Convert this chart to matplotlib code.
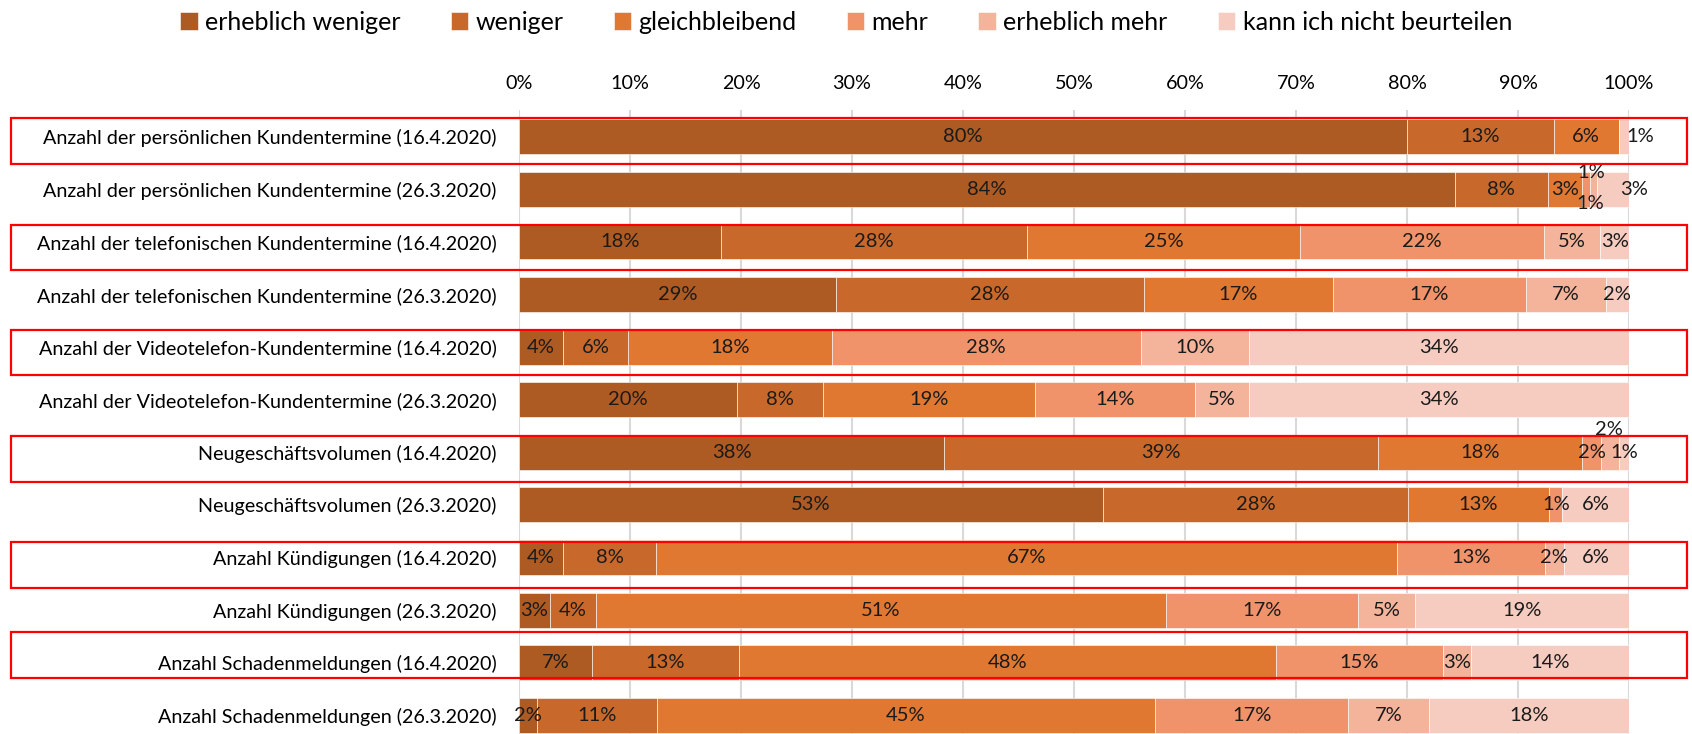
import numpy as np
import matplotlib.pyplot as plt
from matplotlib.patches import Rectangle
from matplotlib.transforms import blended_transform_factory

plt.rcParams['font.family'] = ['Lato', 'DejaVu Sans']

categories = ['Anzahl der persönlichen Kundentermine (16.4.2020)',
              'Anzahl der persönlichen Kundentermine (26.3.2020)',
              'Anzahl der telefonischen Kundentermine (16.4.2020)',
              'Anzahl der telefonischen Kundentermine (26.3.2020)',
              'Anzahl der Videotelefon-Kundentermine (16.4.2020)',
              'Anzahl der Videotelefon-Kundentermine (26.3.2020)',
              'Neugeschäftsvolumen (16.4.2020)',
              'Neugeschäftsvolumen (26.3.2020)',
              'Anzahl Kündigungen (16.4.2020)',
              'Anzahl Kündigungen (26.3.2020)',
              'Anzahl Schadenmeldungen (16.4.2020)',
              'Anzahl Schadenmeldungen (26.3.2020)']

series_names = ['erheblich weniger', 'weniger', 'gleichbleibend', 'mehr', 'erheblich mehr',
                'kann ich nicht beurteilen']

erheblich_weniger = [80.0, 84.3, 18.2, 28.6, 4.0, 19.6, 38.3, 52.6, 4.0, 2.8, 6.6, 1.6]
weniger = [13.2, 8.4, 27.6, 27.7, 5.8, 7.8, 39.1, 27.5, 8.3, 4.1, 13.2, 10.8]
gleichbleibend = [5.9, 3.1, 24.6, 17.0, 18.4, 19.1, 18.4, 12.7, 66.8, 51.4, 48.4, 44.9]
mehr = [0.0, 0.7, 21.9, 17.4, 27.8, 14.4, 1.7, 1.2, 13.3, 17.3, 15.0, 17.4]
erheblich_mehr = [0.0, 0.6, 5.1, 7.2, 9.8, 4.9, 1.6, 0.0, 1.7, 5.1, 2.6, 7.3]
kann_nicht = [0.9, 2.9, 2.6, 2.1, 34.2, 34.2, 0.9, 6.0, 5.9, 19.3, 14.2, 18.0]

data = [erheblich_weniger, weniger, gleichbleibend, mehr, erheblich_mehr, kann_nicht]
colors = ['#AE5A23', '#C8692B', '#E07832', '#F0936A', '#F4B39B', '#F6CCC0']

# labels moved by hand in the original: (row, series) -> (x in %, y shift in rows)
label_moves = {(0, 5): (101.0, 0.0), (1, 3): (96.6, -0.31), (1, 4): (96.5, 0.27),
               (1, 5): (100.5, 0.0), (6, 4): (98.2, -0.44)}

highlight_rows = [0, 2, 4, 6, 8, 10]
highlight_top = [-0.35, -0.32, -0.325, -0.31, -0.296, -0.587]

fig = plt.figure(figsize=(16.92, 7.34), dpi=100)
ax = fig.add_axes([519 / 1692, 0.0, 1110 / 1692, 1 - 110 / 734])

y = np.arange(len(categories))
left = np.zeros(len(categories))
for s, (name, vals, col) in enumerate(zip(series_names, data, colors)):
    vals = np.array(vals)
    ax.barh(y, vals, 0.665, left=left, color=col, label=name, edgecolor='white', linewidth=0.4, zorder=2)
    for i, v in enumerate(vals):
        if v <= 0:
            continue
        xpos, dy = left[i] + v / 2, 0.0
        if (i, s) in label_moves:
            xpos, dy = label_moves[(i, s)]
        ax.text(xpos, y[i] + dy, f'{round(v):.0f}%', ha='center', va='center', fontsize=14.5,
                color='#1a1a1a', zorder=4)
    left += vals

ax.set_xlim(0, 100)
ax.set_ylim(11.351, -0.503)
ax.set_yticks(y)
ax.set_yticklabels(categories, fontsize=14.2)
ax.set_xticks(np.arange(0, 101, 10))
ax.set_xticklabels([f'{t}%' for t in range(0, 101, 10)], fontsize=14.2)
ax.xaxis.tick_top()
ax.tick_params(axis='both', length=0)
ax.tick_params(axis='y', pad=16)
ax.tick_params(axis='x', pad=13)
ax.grid(axis='x', color='#D9D9D9', linewidth=1.5, zorder=0)
ax.set_axisbelow(True)
for sp in ax.spines.values():
    sp.set_visible(False)

trans = blended_transform_factory(fig.transFigure, ax.transData)
for r, top in zip(highlight_rows, highlight_top):
    ax.add_patch(Rectangle((11 / 1692, r + top), 1676 / 1692, 0.865, transform=trans, fill=False,
                           edgecolor='#FF0000', linewidth=1.6, clip_on=False, zorder=5))

fig.legend(loc='center', bbox_to_anchor=(0.5, 1 - 22 / 734), ncol=6, frameon=False, fontsize=18,
           handlelength=0.7, handleheight=0.7, handletextpad=0.3, columnspacing=2.0)

fig.savefig('out.png', dpi=100)
